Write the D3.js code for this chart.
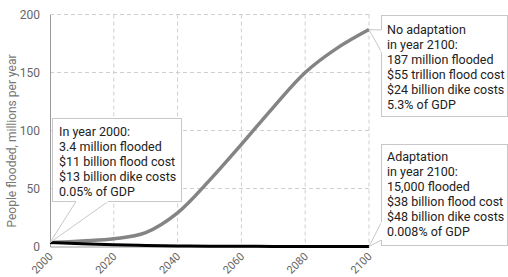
<!DOCTYPE html>
<html>
<head>
<meta charset="utf-8">
<script src="https://cdn.jsdelivr.net/npm/d3@7"></script>
<style>
  body { margin: 0; background: #fff; }
  text { font-family: Roboto, "Noto Sans", sans-serif; }
</style>
</head>
<body>
<div id="chart"></div>
<script>
// years and series values (millions of people flooded per year)
const years = [2000, 2010, 2020, 2030, 2040, 2050, 2060, 2070, 2080, 2090, 2100];
const noAdaptation = [3.4, 4.8, 6.6, 12, 29, 57, 88, 120, 150, 171, 187];
const adaptation = [3.4, 2.3, 1.5, 0.9, 0.5, 0.3, 0.15, 0.08, 0.05, 0.03, 0.015];
const xTicks = [2000, 2020, 2040, 2060, 2080, 2100];
const yTicks = [0, 50, 100, 150, 200];

const noteStart = ["In year 2000:", "3.4 million flooded", "$11 billion flood cost", "$13 billion dike costs", "0.05% of GDP"];
const noteNoAdapt = ["No adaptation", "in year 2100:", "187 million flooded", "$55 trillion flood cost", "$24 billion dike costs", "5.3% of GDP"];
const noteAdapt = ["Adaptation", "in year 2100:", "15,000 flooded", "$38 billion flood cost", "$48 billion dike costs", "0.008% of GDP"];

const width = 508, height = 277;

const x = d3.scaleLinear().domain([2000, 2100]).range([50, 369]);
const y = d3.scaleLinear().domain([0, 200]).range([246.5, 14.5]);

const svg = d3.select("#chart")
  .append("svg")
  .attr("width", width)
  .attr("height", height);

// grid lines
svg.append("g")
  .selectAll("line")
  .data(xTicks.filter(d => d > 2000))
  .enter()
  .append("line")
  .attr("x1", d => x(d)).attr("x2", d => x(d))
  .attr("y1", y(200)).attr("y2", y(0))
  .style("stroke", "#cfcfcf")
  .style("stroke-dasharray", "4,3");

svg.append("g")
  .selectAll("line")
  .data(yTicks.filter(d => d > 0))
  .enter()
  .append("line")
  .attr("x1", x(2000)).attr("x2", x(2100))
  .attr("y1", d => y(d)).attr("y2", d => y(d))
  .style("stroke", "#cfcfcf")
  .style("stroke-dasharray", "4,3");

// axes
const yAxis = svg.append("g")
  .attr("transform", `translate(${x(2000)},0)`)
  .call(d3.axisLeft(y).tickValues(yTicks).tickSize(0).tickPadding(10));
yAxis.select(".domain").style("stroke", "#999");
yAxis.selectAll("text").style("font-size", "12px").style("fill", "#666");

const xAxis = svg.append("g")
  .attr("transform", `translate(0,${y(0)})`)
  .call(d3.axisBottom(x).tickValues(xTicks).tickFormat(d3.format("d")).tickSize(0));
xAxis.select(".domain").style("stroke", "#999");
xAxis.selectAll("text")
  .style("font-size", "11px")
  .style("fill", "#666")
  .style("text-anchor", "end")
  .attr("dy", null)
  .attr("transform", "translate(1,8.5) rotate(-45)");

svg.append("text")
  .attr("transform", "translate(16,141) rotate(-90)")
  .attr("text-anchor", "middle")
  .style("font-size", "12px")
  .style("fill", "#777")
  .text("People flooded, millions per year");

// lines
const line = d3.line()
  .x((d, i) => x(years[i]))
  .y(d => y(d))
  .curve(d3.curveCatmullRom.alpha(0.5));

svg.append("path")
  .datum(noAdaptation)
  .attr("d", line)
  .style("fill", "none")
  .style("stroke", "#848484")
  .style("stroke-width", 3.5);

svg.append("path")
  .datum(adaptation)
  .attr("d", line)
  .style("fill", "none")
  .style("stroke", "#000")
  .style("stroke-width", 3);

// callouts
function callout(lines, box, pointer, tx, ty) {
  const g = svg.append("g");
  g.append("rect")
    .attr("x", box[0]).attr("y", box[1])
    .attr("width", box[2]).attr("height", box[3])
    .style("fill", "#fff")
    .style("stroke", "#c8c8c8");
  g.append("path")
    .attr("d", "M" + pointer[0] + "L" + pointer[1] + "L" + pointer[2])
    .style("fill", "#fff")
    .style("stroke", "#c8c8c8");
  // hide the rect border where the pointer joins it
  g.append("line")
    .attr("x1", pointer[0][0]).attr("y1", pointer[0][1])
    .attr("x2", pointer[2][0]).attr("y2", pointer[2][1])
    .style("stroke", "#fff")
    .style("stroke-width", 1.5);
  g.selectAll("text")
    .data(lines)
    .enter()
    .append("text")
    .attr("x", tx)
    .attr("y", (d, i) => ty + i * 15)
    .style("font-size", "12.5px")
    .style("fill", "#222")
    .text(d => d);
}

callout(noteStart, [52.5, 118.5, 129, 83],
  [[76, 201.5], [x(2000), y(noAdaptation[0])], [108, 201.5]], 59, 136);
callout(noteNoAdapt, [381.5, 15.5, 126, 101],
  [[381.5, 30], [x(2100), y(noAdaptation[10])], [381.5, 52]], 387, 34);
callout(noteAdapt, [381.5, 144.5, 126, 101],
  [[381.5, 222], [x(2100), y(adaptation[10])], [381.5, 240]], 387, 161);
</script>
</body>
</html>
